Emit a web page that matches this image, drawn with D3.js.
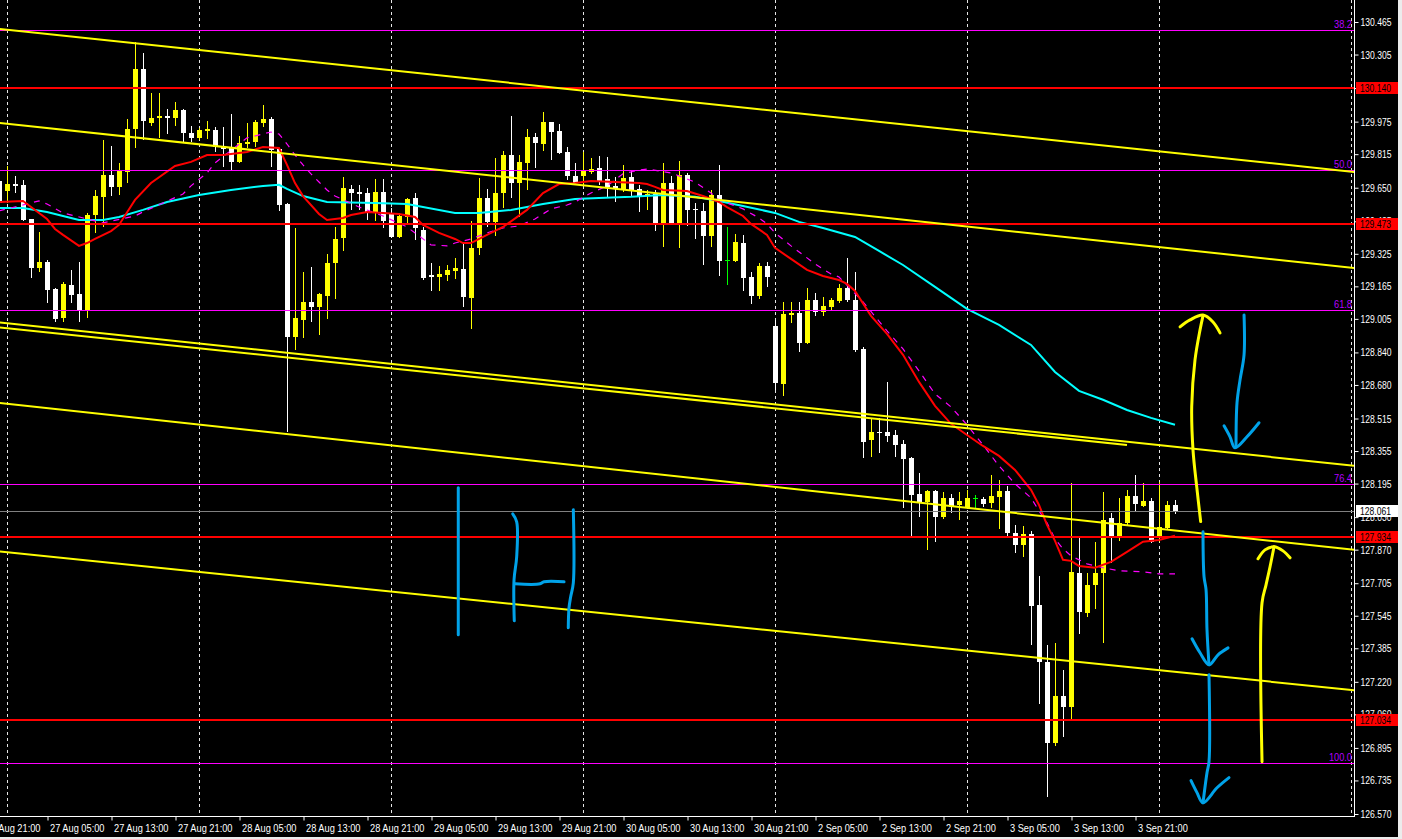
<!DOCTYPE html>
<html><head><meta charset="utf-8">
<script src="https://cdn.jsdelivr.net/npm/d3@7"></script>
<style>
html,body{margin:0;padding:0;background:#000;overflow:hidden}
svg{display:block}
text{font-family:"Liberation Sans",Arial,sans-serif;font-size:11px}
</style></head><body>
<svg id="c" width="1402" height="839"></svg>
<script>
// ---------------- DATA ----------------
// bar index 0 = 27 Aug 00:00 (H1 bars, weekend skipped)
const firstBar = -1;
// [open, high, low, close]
const candles = [
[129.683,129.708,129.550,129.575],[129.634,129.757,129.575,129.668],[129.668,129.708,129.624,129.659],[129.664,129.688,129.487,129.491],
[129.496,129.498,129.206,129.256],[129.256,129.432,129.236,129.285],[129.285,129.295,129.083,129.147],[129.152,129.155,128.990,129.005],
[129.010,129.187,128.990,129.177],[129.172,129.246,129.083,129.123],[129.128,129.285,128.990,129.044],[129.044,129.526,129.010,129.516],
[129.516,129.639,129.428,129.609],[129.605,129.885,129.457,129.713],[129.713,129.855,129.609,129.654],[129.654,129.772,129.614,129.732],
[129.727,129.988,129.673,129.939],[129.939,130.367,129.845,130.234],[130.234,130.313,129.885,129.978],[129.968,130.116,129.954,129.993],
[129.993,130.116,129.895,130.003],[130.003,130.037,129.914,129.993],[129.993,130.072,129.954,130.032],[130.032,130.035,129.875,129.919],
[129.919,129.954,129.875,129.895],[129.895,129.944,129.885,129.934],[129.929,129.978,129.890,129.939],[129.934,129.949,129.826,129.850],
[129.850,129.949,129.752,129.840],[129.850,130.013,129.737,129.777],[129.777,129.904,129.772,129.870],[129.865,129.968,129.845,129.875],
[129.875,129.983,129.850,129.973],[129.968,130.057,129.949,129.988],[129.988,129.998,129.752,129.836],[129.840,129.843,129.536,129.565],
[129.570,129.575,128.449,128.916],[128.916,129.452,128.852,129.010],[129.000,129.236,128.911,129.089],[129.089,129.260,128.990,129.064],
[129.064,129.133,128.926,129.128],[129.118,129.324,129.005,129.280],[129.280,129.457,129.103,129.398],[129.403,129.703,129.339,129.649],
[129.644,129.664,129.541,129.624],[129.629,129.664,129.541,129.619],[129.624,129.649,129.491,129.526],[129.526,129.693,129.487,129.629],
[129.629,129.693,129.452,129.487],[129.521,129.550,129.403,129.408],[129.408,129.526,129.403,129.511],[129.506,129.600,129.472,129.595],
[129.600,129.624,129.393,129.452],[129.442,129.457,129.196,129.206],[129.221,129.280,129.142,129.211],[129.211,129.265,129.142,129.226],
[129.221,129.270,129.192,129.246],[129.241,129.305,129.201,129.256],[129.251,129.378,129.064,129.113],[129.108,129.487,128.956,129.354],
[129.354,129.698,129.319,129.600],[129.600,129.644,129.457,129.482],[129.482,129.796,129.413,129.624],[129.624,129.831,129.550,129.811],
[129.811,130.003,129.600,129.673],[129.673,129.811,129.506,129.777],[129.772,129.939,129.639,129.899],[129.899,129.919,129.747,129.870],
[129.865,130.022,129.831,129.973],[129.973,129.975,129.786,129.924],[129.929,129.963,129.816,129.821],[129.826,129.850,129.688,129.708],
[129.708,129.772,129.668,129.673],[129.708,129.826,129.659,129.732],[129.727,129.796,129.718,129.742],[129.747,129.806,129.664,129.683],
[129.693,129.801,129.600,129.654],[129.659,129.703,129.580,129.644],[129.639,129.762,129.629,129.698],[129.703,129.732,129.605,129.639],
[129.644,129.664,129.531,129.609],[129.614,129.639,129.541,129.619],[129.619,129.639,129.437,129.477],[129.477,129.772,129.359,129.673],
[129.673,129.708,129.467,129.472],[129.472,129.782,129.354,129.713],[129.713,129.723,129.462,129.541],[129.546,129.575,129.398,129.541],
[129.536,129.575,129.270,129.413],[129.413,129.639,129.359,129.614],[129.614,129.762,129.216,129.290],[129.295,129.457,129.172,129.295],
[129.290,129.423,129.285,129.383],[129.378,129.418,129.142,129.206],[129.211,129.236,129.078,129.118],[129.118,129.280,129.103,129.265],
[129.265,129.285,129.162,129.211],[128.970,129.000,128.656,128.690],[128.685,129.089,128.626,129.029],[129.024,129.089,128.985,129.034],
[129.034,129.089,128.843,128.887],[128.887,129.157,128.882,129.098],[129.098,129.133,129.020,129.039],[129.039,129.113,129.020,129.069],
[129.064,129.108,129.049,129.098],[129.093,129.177,129.083,129.157],[129.157,129.305,129.089,129.098],[129.098,129.236,128.843,128.852],
[128.857,128.867,128.321,128.400],[128.410,128.518,128.326,128.449],[128.449,128.518,128.346,128.444],[128.449,128.695,128.400,128.430],
[128.434,128.459,128.326,128.385],[128.390,128.410,128.076,128.317],[128.321,128.325,127.933,128.140],[128.145,128.248,128.031,128.105],
[128.105,128.164,127.869,128.159],[128.159,128.164,127.909,128.031],[128.031,128.154,128.022,128.125],[128.125,128.145,128.051,128.081],
[128.090,128.154,128.017,128.110],[128.076,128.164,128.071,128.125],[128.125,128.140,128.071,128.125],[128.120,128.130,128.081,128.095],
[128.100,128.238,128.076,128.135],[128.130,128.213,127.972,128.159],[128.159,128.184,127.933,127.953],[127.953,127.992,127.854,127.894],
[127.894,127.987,127.835,127.948],[127.948,127.963,127.402,127.594],[127.599,127.741,127.112,127.319],[127.319,127.402,126.655,126.920],
[126.920,127.412,126.906,127.151],[127.151,127.279,126.950,127.097],[127.097,128.199,127.029,127.761],[127.756,127.928,127.456,127.564],
[127.559,127.756,127.540,127.697],[127.697,127.909,127.579,127.756],[127.756,128.154,127.412,128.017],[128.027,128.051,127.805,127.938],
[127.938,128.125,127.913,128.002],[128.002,128.164,127.992,128.135],[128.135,128.238,128.056,128.095],[128.086,128.199,128.081,128.110],
[128.110,128.125,127.904,127.909],[127.938,128.203,127.909,127.982],[127.977,128.110,127.968,128.090],[128.090,128.115,128.046,128.061]
];

// moving averages: [bar index, price]
const redMA = [[-1,129.580],[2,129.585],[5,129.496],[6,129.447],[7,129.418],[9,129.364],[10,129.378],[11,129.398],[13,129.437],[14,129.467],[16,129.590],[18,129.673],[21,129.757],[23,129.777],[25,129.811],[27,129.811],[30,129.826],[32,129.850],[34,129.845],[35,129.762],[36,129.673],[37,129.609],[39,129.521],[40,129.491],[42,129.501],[43,129.516],[45,129.531],[47,129.526],[49,129.521],[51,129.506],[52,129.467],[54,129.428],[56,129.398],[57,129.378],[58,129.378],[60,129.418],[62,129.457],[65,129.541],[67,129.624],[69,129.668],[71,129.673],[73,129.683],[76,129.678],[79,129.673],[80,129.668],[81,129.654],[82,129.639],[85,129.634],[87,129.609],[89,129.580],[90,129.555],[92,129.511],[93,129.472],[95,129.418],[96,129.354],[98,129.300],[100,129.246],[102,129.216],[104,129.196],[105,129.177],[106,129.142],[108,129.020],[110,128.931],[112,128.828],[114,128.695],[116,128.577],[118,128.489],[120,128.434],[122,128.380],[124,128.331],[126,128.262],[128,128.164],[129,128.090],[130,127.992],[131,127.913],[132,127.820],[133,127.815],[134,127.790],[136,127.781],[138,127.810],[140,127.859],[142,127.909],[144,127.918],[146,127.938]];
const cyanMA = [[-1,129.550],[2,129.550],[5,129.531],[9,129.491],[12,129.491],[14,129.506],[17,129.541],[20,129.580],[24,129.614],[28,129.639],[32,129.659],[34,129.664],[35,129.644],[37,129.609],[40,129.580],[46,129.575],[50,129.570],[56,129.526],[59,129.526],[63,129.541],[67,129.570],[71,129.595],[74,129.600],[78,129.605],[82,129.614],[86,129.605],[89,129.585],[92,129.560],[96,129.526],[99,129.482],[102,129.452],[106,129.408],[109,129.339],[112,129.270],[116,129.162],[120,129.054],[124,128.975],[128,128.877],[131,128.744],[134,128.651],[137,128.607],[140,128.557],[143,128.518],[146,128.484]];
const magentaMA = [[-1,129.536],[4,129.585],[5,129.570],[7,129.526],[12,129.477],[16,129.511],[17,129.531],[22,129.619],[23,129.659],[25,129.723],[26,129.772],[30,129.895],[33,129.924],[34,129.914],[35,129.865],[36,129.811],[37,129.762],[38,129.718],[39,129.678],[40,129.639],[41,129.609],[44,129.555],[47,129.511],[50,129.457],[53,129.369],[55,129.364],[56,129.378],[58,129.398],[60,129.428],[62,129.452],[64,129.462],[66,129.496],[68,129.546],[70,129.565],[71,129.580],[73,129.624],[75,129.659],[77,129.718],[79,129.737],[80,129.742],[83,129.723],[86,129.678],[88,129.624],[89,129.590],[92,129.546],[94,129.501],[95,129.472],[96,129.428],[98,129.364],[100,129.305],[101,129.275],[103,129.226],[104,129.211],[107,129.089],[110,128.946],[112,128.857],[114,128.749],[116,128.636],[118,128.572],[120,128.484],[122,128.385],[124,128.282],[126,128.194],[128,128.125],[129,128.061],[130,128.002],[131,127.923],[132,127.874],[133,127.840],[135,127.800],[137,127.781],[139,127.766],[142,127.761],[144,127.751],[146,127.751]];

// horizontal levels
const redLevels = [130.140, 129.473, 127.934, 127.034];
const bidPrice = 128.061;
const fibLabels = ["38.2", "50.0", "61.8", "76.4", "100.0"];
const fibPrices = [130.426, 129.736, 129.049, 128.195, 126.822];

// trend lines: two anchors [bar, price]
const trendLines = [
  [[-1,130.431],[168,129.729]],
  [[-1,129.969],[168,129.257]],
  [[-1,128.988],[168,128.284]],
  [[-1,128.592],[168,127.871]],
  [[-1,127.862],[168,127.180]]
];
const shortTrend = [[-1,128.963],[140,128.385]];

// axes
const priceTicks = [130.465,130.305,130.140,129.975,129.815,129.650,129.485,129.325,129.165,129.005,128.840,128.680,128.515,128.355,128.195,128.030,127.870,127.705,127.545,127.385,127.220,127.060,126.895,126.735,126.570];
const timeTickBars = [-3,5,13,21,29,37,45,53,61,69,77,85,93,101,109,117,125,133,141];
const timeTickLabels = ["26 Aug 21:00","27 Aug 05:00","27 Aug 13:00","27 Aug 21:00","28 Aug 05:00","28 Aug 13:00","28 Aug 21:00","29 Aug 05:00","29 Aug 13:00","29 Aug 21:00","30 Aug 05:00","30 Aug 13:00","30 Aug 21:00","2 Sep 05:00","2 Sep 13:00","2 Sep 21:00","3 Sep 05:00","3 Sep 13:00","3 Sep 21:00"];
const dayStartBars = [0,24,48,72,96,120,144,168];

// hand-drawn annotations [bar, price]
const yellowStrokes = [
  [[149.21,128.008],[148.71,128.181],[148.25,128.361],[148.09,128.574],[148.5,128.803],[149.13,128.951],[149.5,129.020]],
  [[146.63,128.966],[147.88,129.000],[149.5,129.024],[150.75,128.990],[151.63,128.936]],
  [[156.88,126.827],[156.88,127.609],[157.38,127.697],[157.88,127.786],[158.38,127.884]],
  [[156.38,127.825],[157.25,127.869],[158.38,127.884],[159.5,127.864],[160.38,127.830]]
];
const blueStrokes = [
  [[154.63,129.024],[154.63,128.828],[154.13,128.705],[153.75,128.592],[153.63,128.376]],
  [[152.13,128.479],[152.88,128.425],[153.5,128.371],[155,128.425],[156.5,128.494]],
  [[149.5,127.958],[149.63,127.737],[149.88,127.673],[150,127.476],[150.25,127.304]],
  [[148.13,127.432],[149.13,127.363],[150.25,127.304],[151.38,127.353],[152.63,127.387]],
  [[150.25,127.255],[150.25,126.827],[150,126.773],[149.5,126.625]],
  [[148,126.734],[148.75,126.675],[149.5,126.625],[151.25,126.699],[152.75,126.749]],
  [[56.41,128.174],[56.41,127.451]],
  [[63.21,128.046],[63.71,128.007],[63.71,127.835],[63.38,127.722],[63.41,127.520]],
  [[63.5,127.702],[66.63,127.702],[67.13,127.712],[69.63,127.712]],
  [[70.79,128.066],[70.79,127.707],[70.46,127.638],[70.25,127.584],[70.16,127.486]]
];

// ---------------- DRAW ----------------
const W = 1402, H = 839, plotR = 1354, plotB = 816;
const svg = d3.select("#c");
svg.append("rect").attr("width", W).attr("height", H).attr("fill", "#000");

const x = d3.scaleLinear().domain([0, 168]).range([7, 1351]);
const y = d3.scaleLinear().domain([126.570, 130.465]).range([814, 22]);

// narrow the text like the terminal's small UI font
function squeeze(sel, f) {
  sel.each(function () {
    const w = this.getComputedTextLength();
    this.setAttribute("textLength", (w * f).toFixed(1));
    this.setAttribute("lengthAdjust", "spacingAndGlyphs");
  });
}

svg.append("clipPath").attr("id", "plot").append("rect").attr("x", 0).attr("y", 0).attr("width", plotR).attr("height", plotB);
const g = svg.append("g").attr("clip-path", "url(#plot)");

// grid
g.selectAll("line.grid").data(dayStartBars).join("line")
  .attr("x1", d => Math.round(x(d)) + 0.5).attr("x2", d => Math.round(x(d)) + 0.5)
  .attr("y1", 0).attr("y2", plotB)
  .attr("stroke", "#e6e6e6").attr("stroke-width", 1).attr("stroke-dasharray", "3,3");

// candles
const cd = candles.map((c, k) => ({ i: firstBar + k, o: c[0], h: c[1], l: c[2], c: c[3] }));
const col = d => d.c > d.o ? "#ffff00" : (d.c < d.o ? "#ffffff" : "#00ff00");
const cg = g.append("g").attr("shape-rendering", "crispEdges");
cg.selectAll("rect.wick").data(cd).join("rect")
  .attr("x", d => Math.round(x(d.i))).attr("width", 1)
  .attr("y", d => Math.round(y(d.h))).attr("height", d => Math.max(1, Math.round(y(d.l)) - Math.round(y(d.h))))
  .attr("fill", col);
cg.selectAll("rect.body").data(cd).join("rect")
  .attr("x", d => Math.round(x(d.i)) - 2).attr("width", 5)
  .attr("y", d => Math.round(y(Math.max(d.o, d.c))))
  .attr("height", d => Math.max(1, Math.round(y(Math.min(d.o, d.c))) - Math.round(y(Math.max(d.o, d.c)))))
  .attr("fill", col);

// moving averages
const ln = d3.line().x(d => x(d[0])).y(d => y(d[1]));
g.append("path").attr("d", ln(cyanMA)).attr("fill", "none").attr("stroke", "#00ffff").attr("stroke-width", 2);
g.append("path").attr("d", ln(magentaMA)).attr("fill", "none").attr("stroke", "#ff00ff").attr("stroke-width", 1.2).attr("stroke-dasharray", "6,6");
g.append("path").attr("d", ln(redMA)).attr("fill", "none").attr("stroke", "#ff0000").attr("stroke-width", 2);

// horizontal levels
g.selectAll("line.fib").data(fibPrices).join("line")
  .attr("x1", 0).attr("x2", plotR).attr("y1", d => Math.round(y(d)) + 0.5).attr("y2", d => Math.round(y(d)) + 0.5)
  .attr("stroke", "#ff00ff").attr("stroke-width", 1);
const fibT = g.selectAll("text.fib").data(fibPrices).join("text")
  .attr("x", 1352).attr("y", d => Math.round(y(d)) - 2).attr("text-anchor", "end")
  .attr("fill", "#b400ff").text((d, k) => fibLabels[k]);
squeeze(fibT, 0.84);
g.selectAll("line.red").data(redLevels).join("line")
  .attr("x1", 0).attr("x2", plotR).attr("y1", d => Math.round(y(d))).attr("y2", d => Math.round(y(d)))
  .attr("stroke", "#ff0000").attr("stroke-width", 2);
g.append("line").attr("x1", 0).attr("x2", plotR).attr("y1", Math.round(y(bidPrice)) + 0.5).attr("y2", Math.round(y(bidPrice)) + 0.5)
  .attr("stroke", "#808080").attr("stroke-width", 1);

// trend lines (extended across plot)
function extLine(a, b) {
  const s = (b[1] - a[1]) / (b[0] - a[0]);
  const i0 = -2, i1 = 170;
  return [[i0, a[1] + s * (i0 - a[0])], [i1, a[1] + s * (i1 - a[0])]];
}
g.selectAll("path.trend").data(trendLines).join("path")
  .attr("d", d => ln(extLine(d[0], d[1]))).attr("fill", "none").attr("stroke", "#ffff00").attr("stroke-width", 2);
g.append("path").attr("d", ln(shortTrend)).attr("fill", "none").attr("stroke", "#ffff00").attr("stroke-width", 2);

// annotations
const sl = d3.line().x(d => x(d[0])).y(d => y(d[1])).curve(d3.curveCatmullRom);
g.selectAll("path.ys").data(yellowStrokes).join("path").attr("d", sl).attr("fill", "none")
  .attr("stroke", "#ffff00").attr("stroke-width", 3).attr("stroke-linecap", "round").attr("stroke-linejoin", "round");
g.selectAll("path.bs").data(blueStrokes).join("path").attr("d", sl).attr("fill", "none")
  .attr("stroke", "#00a2e8").attr("stroke-width", 3).attr("stroke-linecap", "round").attr("stroke-linejoin", "round");

// axes frame
svg.append("line").attr("x1", 0).attr("x2", plotR + 1).attr("y1", plotB + 0.5).attr("y2", plotB + 0.5).attr("stroke", "#fff");
svg.append("line").attr("x1", plotR + 0.5).attr("x2", plotR + 0.5).attr("y1", 0).attr("y2", plotB + 1).attr("stroke", "#fff");

// right price axis
const ya = svg.append("g").attr("transform", `translate(${plotR + 0.5},0)`)
  .call(d3.axisRight(y).tickValues(priceTicks).tickFormat(d => d.toFixed(3)).tickSize(4).tickPadding(2));
ya.select(".domain").remove();
ya.selectAll("line").attr("stroke", "#fff");
ya.selectAll("text").attr("fill", "#fff").style("font-size", "11px").style("font-family", '"Liberation Sans",Arial,sans-serif');
squeeze(ya.selectAll("text"), 0.78);

// bottom time axis
const xa = svg.append("g").attr("transform", `translate(0.5,${plotB + 0.5})`)
  .call(d3.axisBottom(x).tickValues(timeTickBars).tickFormat((d, k) => timeTickLabels[k]).tickSize(4));
xa.select(".domain").remove();
xa.selectAll("line").attr("stroke", "#fff");
xa.selectAll("text").attr("fill", "#fff").attr("text-anchor", "start").attr("dx", 2).attr("y", 8)
  .style("font-size", "11px").style("font-family", '"Liberation Sans",Arial,sans-serif');
squeeze(xa.selectAll("text"), 0.84);

// level labels on the price axis
const lab = svg.append("g");
redLevels.forEach(p => {
  const yy = Math.round(y(p));
  lab.append("rect").attr("x", 1356).attr("y", yy - 6).attr("width", 42).attr("height", 12).attr("fill", "#ff0000");
  const t = lab.append("text").attr("x", 1360).attr("y", yy + 4).attr("fill", "#000").text(p.toFixed(3));
  squeeze(t, 0.78);
});
{
  const yy = Math.round(y(bidPrice));
  lab.append("rect").attr("x", 1356).attr("y", yy - 6).attr("width", 42).attr("height", 12).attr("fill", "#ffffff");
  const t = lab.append("text").attr("x", 1360).attr("y", yy + 4).attr("fill", "#000").text(bidPrice.toFixed(3));
  squeeze(t, 0.78);
}

// window border
svg.append("rect").attr("x", 1398).attr("y", 0).attr("width", 4).attr("height", H).attr("fill", "#ececec");
svg.append("rect").attr("x", 0).attr("y", 837).attr("width", W).attr("height", 2).attr("fill", "#ececec");
</script>
</body></html>
